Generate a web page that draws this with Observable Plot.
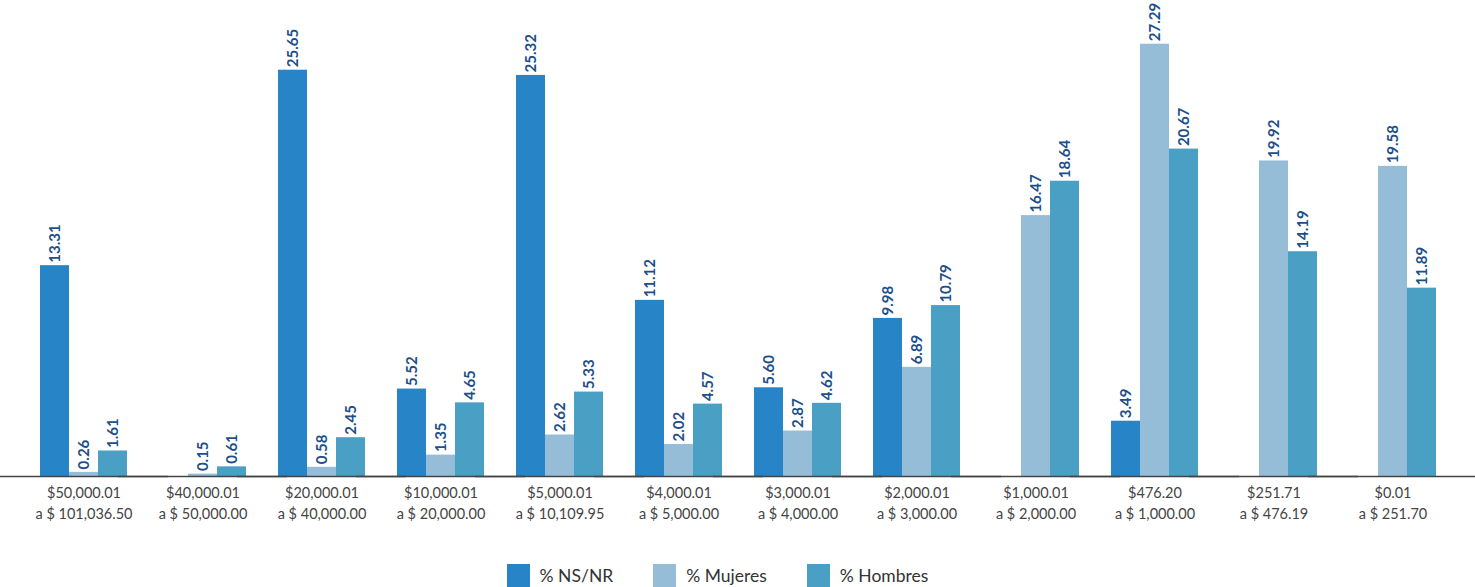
<!DOCTYPE html>
<html>
<head>
<meta charset="utf-8">
<script src="https://cdn.jsdelivr.net/npm/d3@7"></script>
<script src="https://cdn.jsdelivr.net/npm/@observablehq/plot@0.6"></script>
<style>
  html, body { margin: 0; padding: 0; background: #fff; }
  #chart { width: 1475px; }
  #legend { width: 1475px; display: flex; justify-content: center; }
</style>
</head>
<body>
<div id="chart"></div>
<div id="legend"></div>
<script>
const categories = [
  "$50,000.01\na $ 101,036.50",
  "$40,000.01\na $ 50,000.00",
  "$20,000.01\na $ 40,000.00",
  "$10,000.01\na $ 20,000.00",
  "$5,000.01\na $ 10,109.95",
  "$4,000.01\na $ 5,000.00",
  "$3,000.01\na $ 4,000.00",
  "$2,000.01\na $ 3,000.00",
  "$1,000.01\na $ 2,000.00",
  "$476.20\na $ 1,000.00",
  "$251.71\na $ 476.19",
  "$0.01\na $ 251.70"
];
const seriesNames = ["% NS/NR", "% Mujeres", "% Hombres"];
const nsnr     = [13.31, null, 25.65, 5.52, 25.32, 11.12, 5.60, 9.98, null, 3.49, null, null];
const mujeres  = [0.26, 0.15, 0.58, 1.35, 2.62, 2.02, 2.87, 6.89, 16.47, 27.29, 19.92, 19.58];
const hombres  = [1.61, 0.61, 2.45, 4.65, 5.33, 4.57, 4.62, 10.79, 18.64, 20.67, 14.19, 11.89];
const colors   = ["#2784c7", "#96bdd8", "#4aa0c4"];

const seriesValues = [nsnr, mujeres, hombres];
const data = [];
categories.forEach((c, i) => {
  seriesNames.forEach((s, j) => {
    const v = seriesValues[j][i];
    if (v != null) data.push({cat: c, series: s, value: v});
  });
});

const chart = Plot.plot({
  width: 1475,
  height: 556,
  marginLeft: 0,
  marginRight: 0,
  marginTop: 0,
  marginBottom: 80,
  style: {fontFamily: "Lato, 'Open Sans', sans-serif", background: "#fff"},
  fx: {domain: categories, paddingInner: 0.255, paddingOuter: 0.28, axis: null, label: null},
  x: {domain: seriesNames, padding: 0, axis: null},
  y: {domain: [0, 30.05], axis: null},
  color: {domain: seriesNames, range: colors},
  marks: [
    Plot.barY(data, {fx: "cat", x: "series", y: "value", fill: "series"}),
    Plot.text(data, {
      fx: "cat", x: "series", y: "value",
      text: d => d.value.toFixed(2),
      rotate: -90, textAnchor: "start", dy: -3,
      fontWeight: "bold", fontSize: 15, fill: "#1d4f8a"
    }),
    Plot.ruleY([0], {stroke: "#444", strokeWidth: 1.5, insetLeft: -40, insetRight: -40}),
    Plot.text(categories, {
      fx: d => d, text: d => d,
      frameAnchor: "bottom", lineAnchor: "top", dy: 7,
      lineHeight: 1.45, fontSize: 14.5, fill: "#444"
    })
  ]
});
document.getElementById("chart").appendChild(chart);

const legend = Plot.legend({
  color: {domain: seriesNames, range: colors},
  legend: "swatches",
  swatchWidth: 23,
  swatchHeight: 24,
  style: {fontFamily: "Lato, 'Open Sans', sans-serif", fontSize: "17.5px", color: "#333", marginLeft: "0px"}
});
legend.style.justifyContent = "center";
legend.style.width = "1475px";
legend.style.paddingTop = "3px";
legend.querySelectorAll("span").forEach(s => { s.style.marginRight = "40px"; });
legend.querySelectorAll("svg").forEach(s => { s.style.marginRight = "10px"; });
document.getElementById("legend").appendChild(legend);
</script>
</body>
</html>
